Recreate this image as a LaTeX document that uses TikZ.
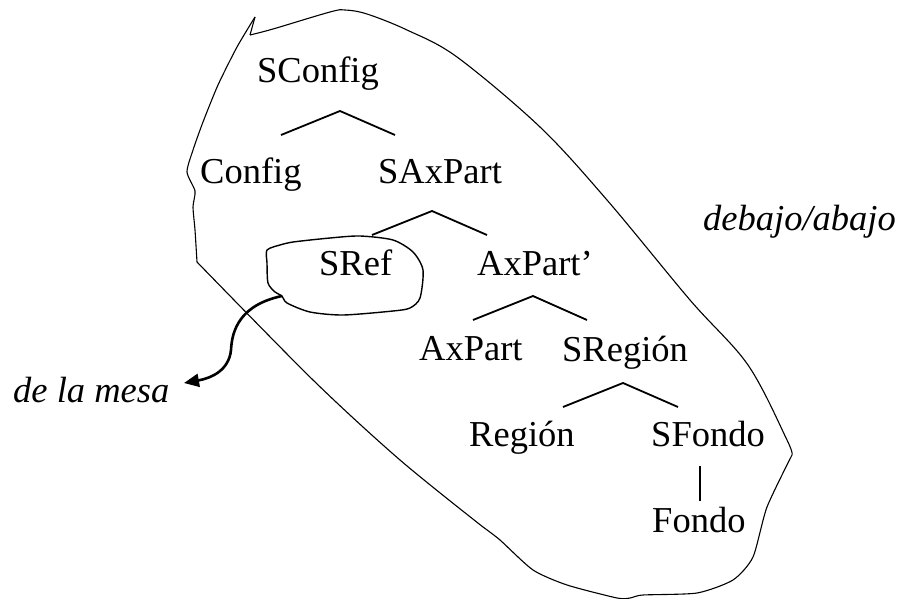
\documentclass[tikz,border=0pt]{standalone}
\usepackage{fontspec}
\setmainfont{Liberation Serif}
\usetikzlibrary{arrows.meta}
\begin{document}
\begin{tikzpicture}[x=1pt,y=-1pt,
  lbl/.style={anchor=base west,inner sep=0pt,font=\fontsize{36.5}{40}\selectfont},
  ilbl/.style={lbl,font=\fontsize{36.5}{40}\selectfont\itshape},
  branch/.style={line width=1.8pt,line join=miter},
  outline/.style={line width=1.1pt,line join=round},
  loopline/.style={line width=1.4pt,line join=round},
  pointer/.style={line width=2.6pt,-{Triangle[length=15pt,width=13pt]}}]
\useasboundingbox (0,0) rectangle (900,599);

% the big enclosing outline
\draw[outline] plot[smooth,tension=0.55] coordinates {
  (250,35) (273,29) (330,12) (345,10) (367,14) (407,30) (457,57)
  (540,127) (607,200) (690,300) (748,365) (787,440) (792,455)};
\draw[outline] plot[smooth,tension=0.4] coordinates {
  (792,455) (767,507) (753,557) (733,580) (697,593) (643,595) (630,598)
  (617,598) (567,585) (533,570) (500,540) (483,527)};
\draw[outline] plot[smooth,tension=0.5] coordinates {
  (483,527) (400,460) (313,380) (197,262)};
\draw[outline] plot[smooth,tension=0.4] coordinates {
  (197,262) (195,230) (193,207) (195,191) (187,172) (193,150)
  (203,122) (218,85) (237,47) (255,17)};
\draw[outline] (255,17) -- (250,35);

% tree labels
\node[lbl] (sconfig) at (257,83) {SConfig};
\node[lbl] (config) at (200,183) {Config};
\node[lbl] (saxpart) at (378,183) {SAxPart};
\node[lbl] (sref) at (319,275) {SRef};
\node[lbl] (axpartp) at (477,275) {AxPart’};
\node[lbl] (axpart) at (419,360) {AxPart};
\node[lbl] (sregion) at (562,361) {SRegión};
\node[lbl] (region) at (469,446) {Región};
\node[lbl] (sfondo) at (651,446) {SFondo};
\node[lbl] (fondo) at (652,532) {Fondo};
\node[ilbl] (debajo) at (703,230) {debajo/abajo};
\node[ilbl] (mesa) at (13,402) {de la mesa};

% branch points
\coordinate (b1l) at (281,135); \coordinate (b1t) at (340,111); \coordinate (b1r) at (395,135);
\coordinate (b2l) at (372,235); \coordinate (b2t) at (432,211); \coordinate (b2r) at (487,235);
\coordinate (b3l) at (473,320); \coordinate (b3t) at (533,296); \coordinate (b3r) at (587,320);
\coordinate (b4l) at (563,407); \coordinate (b4t) at (623,383); \coordinate (b4r) at (678,407);
\coordinate (b5t) at (700,466); \coordinate (b5b) at (700,501);

\draw[branch] (b1l) -- (b1t) -- (b1r);
\draw[branch] (b2l) -- (b2t) -- (b2r);
\draw[branch] (b3l) -- (b3t) -- (b3r);
\draw[branch] (b4l) -- (b4t) -- (b4r);
\draw[branch] (b5t) -- (b5b);

% loop around SRef
\draw[loopline] plot[smooth,tension=0.45] coordinates {
  (280,245) (293,242) (330,238) (360,236) (393,240) (413,252) (423,270)
  (420,298) (410,308) (393,311) (343,315) (310,312) (287,303) (282,296)
  (275,292) (268,283) (267,263) (267,250) (280,245)};

% pointer from the loop to its phrase
\coordinate (start) at (282,296);
\coordinate (tip) at (184,383);
\draw[pointer] (start) .. controls (240,305) and (232,330) .. (231,350)
  .. controls (229,370) and (212,378) .. (tip);
\end{tikzpicture}
\end{document}
